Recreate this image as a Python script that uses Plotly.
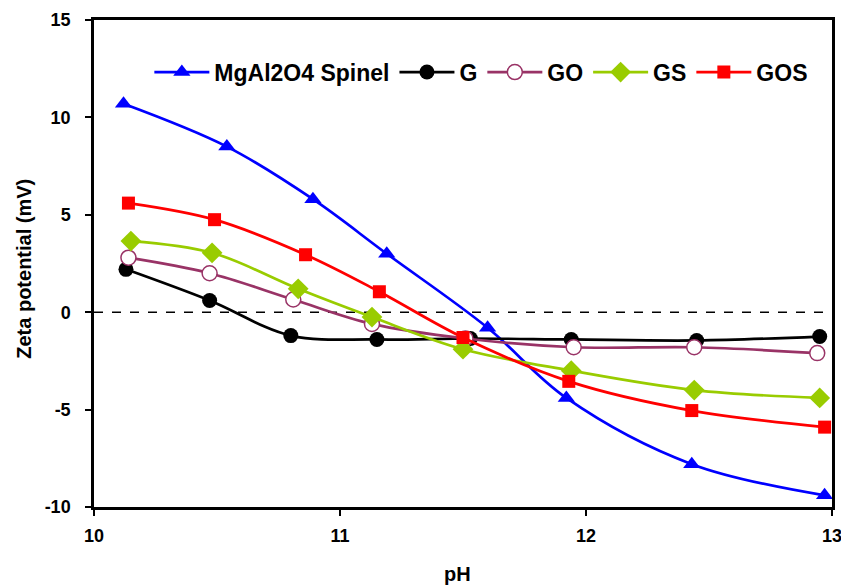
import plotly.graph_objects as go

# Data
ph_spinel = [10.12, 10.54, 10.89, 11.19, 11.60, 11.92, 12.43, 12.97]
z_spinel = [10.7, 8.5, 5.8, 3.0, -0.8, -4.4, -7.8, -9.4]

ph_g = [10.13, 10.47, 10.80, 11.15, 11.53, 11.94, 12.45, 12.95]
z_g = [2.2, 0.6, -1.2, -1.4, -1.35, -1.4, -1.45, -1.25]

ph_go = [10.14, 10.47, 10.81, 11.13, 11.51, 11.95, 12.44, 12.94]
z_go = [2.8, 2.0, 0.65, -0.6, -1.35, -1.8, -1.8, -2.1]

ph_gs = [10.15, 10.48, 10.83, 11.13, 11.50, 11.94, 12.44, 12.95]
z_gs = [3.65, 3.05, 1.2, -0.25, -1.9, -3.0, -4.0, -4.4]

ph_gos = [10.14, 10.49, 10.86, 11.16, 11.50, 11.93, 12.43, 12.97]
z_gos = [5.6, 4.75, 2.95, 1.05, -1.3, -3.55, -5.05, -5.9]

names = ["MgAl2O4 Spinel", "G", "GO", "GS", "GOS"]
x_ticks = [10, 11, 12, 13]
x_ticktext = ["10", "11", "12", "13"]
y_ticks = [-10, -5, 0, 5, 10, 15]
y_ticktext = ["-10", "-5", "0", "5", "10", "15"]

FONT = "Liberation Sans, Arial, sans-serif"

fig = go.Figure()

series = [
    (ph_spinel, z_spinel, names[0], "#0000FF", dict(symbol="triangle-up", size=15, color="#0000FF")),
    (ph_g, z_g, names[1], "#000000", dict(symbol="circle", size=15, color="#000000")),
    (ph_go, z_go, names[2], "#993366", dict(symbol="circle", size=15, color="#FFFFFF",
                                             line=dict(color="#993366", width=1.5))),
    (ph_gs, z_gs, names[3], "#99CC00", dict(symbol="diamond", size=16, color="#99CC00")),
    (ph_gos, z_gos, names[4], "#FF0000", dict(symbol="square", size=13, color="#FF0000")),
]

for xs, ys, nm, col, mk in series:
    fig.add_trace(go.Scatter(
        x=xs, y=ys, name=nm, mode="lines+markers",
        line=dict(color=col, width=2.7, shape="spline", smoothing=1.0),
        marker=mk,
    ))

fig.add_shape(type="line", xref="paper", yref="y", x0=0, x1=1, y0=0, y1=0,
              line=dict(color="#000000", width=1.5, dash="dash"), layer="below")

fig.update_layout(
    width=841, height=585,
    margin=dict(l=94, r=9, t=20, b=78),
    paper_bgcolor="white", plot_bgcolor="white",
    font=dict(family=FONT, color="black", size=18, weight="bold"),
    showlegend=True,
    legend=dict(orientation="h", x=0.075, xanchor="left", y=0.893, yanchor="middle",
                font=dict(family=FONT, size=23, weight="bold", color="black"),
                bgcolor="rgba(0,0,0,0)", itemwidth=55, traceorder="normal"),
    xaxis=dict(range=[10, 13], tickvals=x_ticks, ticktext=x_ticktext, ticks="outside",
               ticklen=6, tickwidth=2, automargin=False, ticklabeloverflow="allow",
               tickcolor="black", showline=True, linecolor="black", linewidth=2.5,
               mirror=True, showgrid=False, zeroline=False,
               tickfont=dict(family=FONT, size=18, weight="bold"), ticklabelstandoff=5),
    yaxis=dict(range=[-10, 15], tickvals=y_ticks, ticktext=y_ticktext, ticks="outside",
               ticklen=6, tickwidth=2, automargin=False, ticklabeloverflow="allow",
               tickcolor="black", showline=True, linecolor="black", linewidth=2.5,
               mirror=True, showgrid=False, zeroline=False,
               tickfont=dict(family=FONT, size=18, weight="bold"), ticklabelstandoff=11),
    annotations=[
        dict(text="Zeta potential (mV)", xref="paper", yref="paper", x=-0.095, y=0.489,
             xanchor="center", yanchor="middle", textangle=-90, showarrow=False,
             font=dict(family=FONT, size=20, weight="bold", color="black")),
        dict(text="pH", xref="paper", yref="paper", x=0.493, y=-0.137,
             xanchor="center", yanchor="middle", showarrow=False,
             font=dict(family=FONT, size=20, weight="bold", color="black")),
    ],
)

fig.write_html("out.html", config={"displayModeBar": False},
               post_script="document.body.style.margin='0';document.body.style.overflow='hidden';")
